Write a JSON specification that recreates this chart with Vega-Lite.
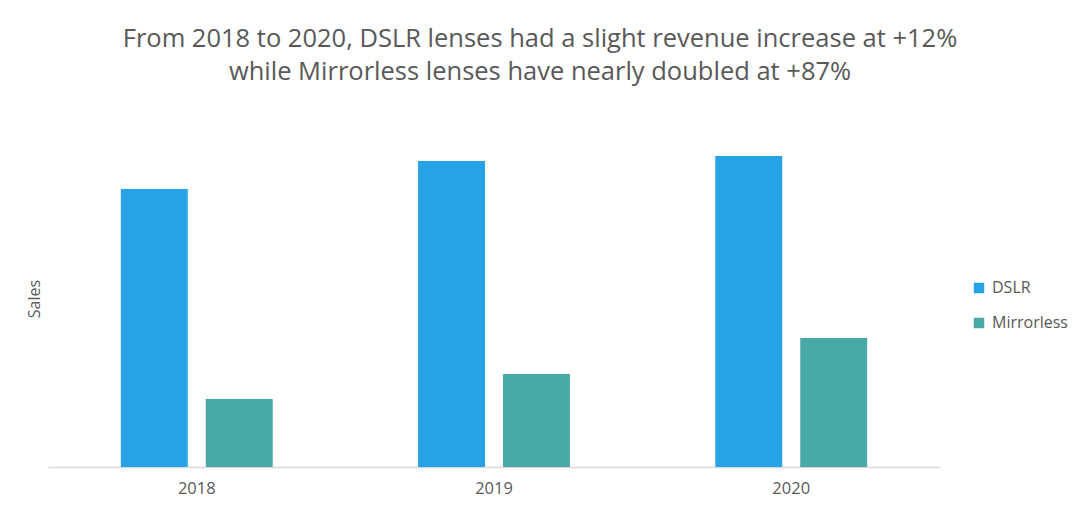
{
  "$schema": "https://vega.github.io/schema/vega-lite/v6.json",
  "autosize": "none",
  "width": 892,
  "height": 337,
  "padding": {"left": 48, "top": 130, "right": 140, "bottom": 53},
  "background": "white",
  "config": {
    "view": {"stroke": null},
    "font": "Open Sans",
    "text": {"font": "Open Sans"}
  },
  "title": {
    "text": [
      "From 2018 to 2020, DSLR lenses had a slight revenue increase at +12%",
      "while Mirrorless lenses have nearly doubled at +87%"
    ],
    "font": "Open Sans",
    "fontSize": 25.5,
    "fontWeight": "normal",
    "color": "#595959",
    "lineHeight": 33,
    "offset": 45,
    "dx": 46,
    "anchor": "middle"
  },
  "data": {
    "values": [
      {"year": "2018", "type": "DSLR", "sales": 278},
      {"year": "2018", "type": "Mirrorless", "sales": 68},
      {"year": "2019", "type": "DSLR", "sales": 306},
      {"year": "2019", "type": "Mirrorless", "sales": 93},
      {"year": "2020", "type": "DSLR", "sales": 311},
      {"year": "2020", "type": "Mirrorless", "sales": 129}
    ]
  },
  "mark": {"type": "bar"},
  "encoding": {
    "x": {
      "field": "year",
      "type": "nominal",
      "scale": {"paddingInner": 0.489, "paddingOuter": 0.245},
      "axis": {
        "title": null,
        "labelAngle": 0,
        "labelFont": "Open Sans",
        "labelFontSize": 16.5,
        "labelColor": "#595959",
        "labelPadding": 13,
        "ticks": false,
        "domainColor": "#d9d9d9",
        "domainWidth": 1.5
      }
    },
    "xOffset": {
      "field": "type",
      "type": "nominal",
      "scale": {"paddingInner": 0.212, "paddingOuter": 0}
    },
    "y": {
      "field": "sales",
      "type": "quantitative",
      "scale": {"domain": [0, 337], "nice": false},
      "axis": {
        "title": "Sales",
        "titleFont": "Open Sans",
        "titleFontSize": 16,
        "titleFontWeight": "normal",
        "titleColor": "#595959",
        "titlePadding": 6,
        "labels": false,
        "ticks": false,
        "domain": false,
        "grid": false
      }
    },
    "color": {
      "field": "type",
      "type": "nominal",
      "scale": {"domain": ["DSLR", "Mirrorless"], "range": ["#27a2e6", "#48a9a6"]},
      "legend": {
        "title": null,
        "orient": "none",
        "legendX": 923,
        "legendY": 150,
        "symbolType": "square",
        "symbolSize": 110,
        "symbolStrokeWidth": 0,
        "labelFont": "Open Sans",
        "labelFontSize": 16,
        "labelColor": "#595959",
        "labelOffset": 5,
        "rowPadding": 19
      }
    }
  }
}
